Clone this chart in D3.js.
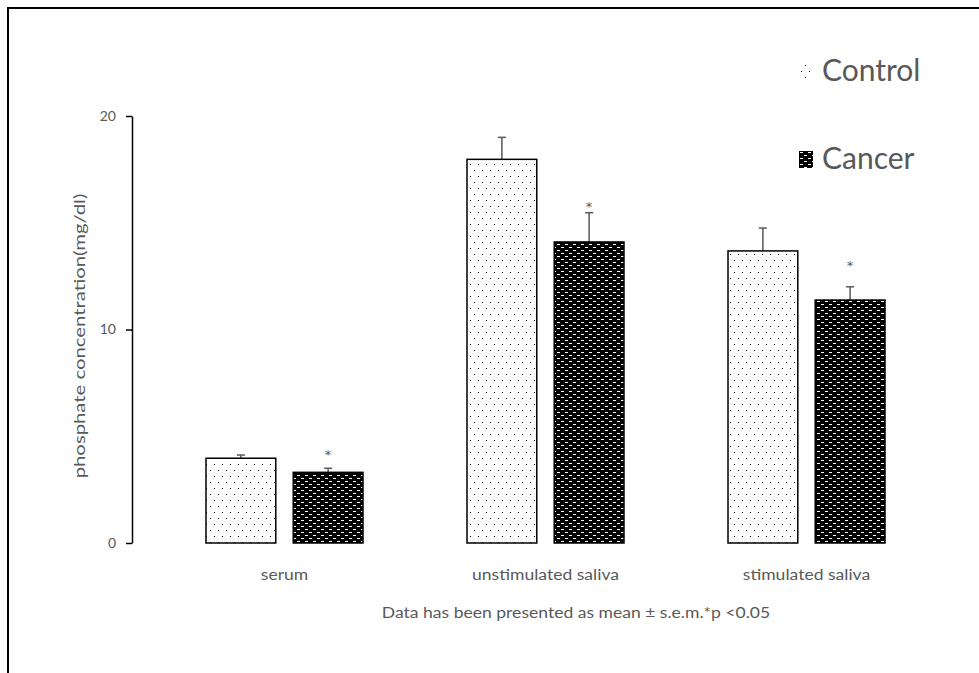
<!DOCTYPE html>
<html>
<head>
<meta charset="utf-8">
<script src="https://cdn.jsdelivr.net/npm/d3@7"></script>
<style>
  body { margin: 0; background: #fff; }
  svg { display: block; }
  text { font-family: Lato, "Open Sans", sans-serif; fill: #595959; }
</style>
</head>
<body>
<div id="chart"></div>
<script>
//-- DATA --\\
var categories = ["serum", "unstimulated saliva", "stimulated saliva"];
var groups = ["Control", "Cancer"];
var controlMean = [3.97, 17.97, 13.68];
var controlErr = [0.15, 1.03, 1.07];
var cancerMean = [3.31, 14.1, 11.38];
var cancerErr = [0.19, 1.37, 0.62];
var starAt = [4.25, 15.9, 13.1]; // where the * marks sit
var yTicks = [0, 10, 20];
var footnote = "Data has been presented as mean \u00b1 s.e.m.*p <0.05";

//-- LAYOUT --\\
var width = 979, height = 673;
var textCol = "#595959";
var stretch = 1.17; // the source text is drawn a bit wide

var svg = d3.select("#chart").append("svg")
  .attr("width", width)
  .attr("height", height);

var defs = svg.append("defs");

// sparse dots for control
var pDots = defs.append("pattern")
  .attr("id", "dots").attr("patternUnits", "userSpaceOnUse")
  .attr("width", 8).attr("height", 12);
pDots.append("rect").attr("width", 8).attr("height", 12).attr("fill", "#fff");
pDots.append("rect").attr("x", 2).attr("y", 2).attr("width", 1).attr("height", 1).attr("fill", "#000");
pDots.append("rect").attr("x", 6).attr("y", 8).attr("width", 1).attr("height", 1).attr("fill", "#000");

// black brick-ish dashes for cancer
var pBrick = defs.append("pattern")
  .attr("id", "brick").attr("patternUnits", "userSpaceOnUse")
  .attr("width", 8).attr("height", 6);
pBrick.append("rect").attr("width", 8).attr("height", 6).attr("fill", "#000");
pBrick.append("rect").attr("x", 1).attr("y", 1).attr("width", 3).attr("height", 1).attr("fill", "#fff");
pBrick.append("rect").attr("x", 5).attr("y", 4).attr("width", 3).attr("height", 1).attr("fill", "#fff");

var fills = { Control: "url(#dots)", Cancer: "url(#brick)" };

// outer frame
svg.append("path")
  .attr("d", "M8," + height + "V8H" + width)
  .attr("fill", "none").attr("stroke", "#000").attr("stroke-width", 2);

var y = d3.scaleLinear().domain([0, 20]).range([543, 116]);
var x0 = d3.scaleBand().domain(categories).range([154, 937]).padding(0);
var x1 = d3.scaleBand().domain(groups).range([52, 209]).paddingInner(0.2);

// y axis
var yAxis = svg.append("g")
  .attr("transform", "translate(132,0)")
  .call(d3.axisLeft(y).tickValues(yTicks).tickSize(6).tickSizeOuter(0));
yAxis.select(".domain").attr("stroke", "#000").attr("stroke-width", 1.5);
yAxis.selectAll(".tick line").attr("stroke", "#000").attr("stroke-width", 1.5);
yAxis.selectAll(".tick text")
  .attr("x", -16).attr("font-size", 14)
  .style("font-family", "Lato, sans-serif").attr("fill", textCol);

svg.append("text")
  .attr("transform", "translate(85,336) rotate(-90) scale(1.27,1)")
  .attr("text-anchor", "middle")
  .attr("font-size", 16)
  .text("phosphate concentration(mg/dl)");

// bars
var rows = [];
categories.forEach(function (c, i) {
  rows.push({ cat: c, grp: "Control", mean: controlMean[i], err: controlErr[i] });
  rows.push({ cat: c, grp: "Cancer", mean: cancerMean[i], err: cancerErr[i] });
});

var bars = svg.append("g");

// error bars (upper only) drawn first so bar outline sits on top
bars.selectAll(".err").data(rows).enter().append("g")
  .each(function (d) {
    var cx = x0(d.cat) + x1(d.grp) + x1.bandwidth() / 2;
    var g = d3.select(this);
    g.append("line")
      .attr("x1", cx).attr("x2", cx)
      .attr("y1", y(d.mean)).attr("y2", y(d.mean + d.err))
      .attr("stroke", "#595959").attr("stroke-width", 1.5);
    g.append("line")
      .attr("x1", cx - 4).attr("x2", cx + 4)
      .attr("y1", y(d.mean + d.err)).attr("y2", y(d.mean + d.err))
      .attr("stroke", "#595959").attr("stroke-width", 1.5);
  });

bars.selectAll(".bar").data(rows).enter().append("rect")
  .attr("x", function (d) { return x0(d.cat) + x1(d.grp); })
  .attr("y", function (d) { return y(d.mean); })
  .attr("width", x1.bandwidth())
  .attr("height", function (d) { return y(0) - y(d.mean); })
  .attr("fill", function (d) { return fills[d.grp]; })
  .attr("stroke", "#000").attr("stroke-width", 1.5);

// significance stars
svg.selectAll(".star").data(categories).enter().append("text")
  .attr("x", function (c) { return x0(c) + x1("Cancer") + x1.bandwidth() / 2; })
  .attr("y", function (c, i) { return y(starAt[i]) + 7; })
  .attr("text-anchor", "middle")
  .attr("font-size", 13)
  .style("font-family", "'DejaVu Sans', sans-serif")
  .text("*");

// category labels
svg.selectAll(".cat").data(categories).enter().append("text")
  .attr("transform", function (c) {
    return "translate(" + (x0(c) + x0.bandwidth() / 2) + ",580) scale(" + stretch + ",1)";
  })
  .attr("text-anchor", "middle")
  .attr("font-size", 15)
  .text(function (c) { return c; });

svg.append("text")
  .attr("transform", "translate(576,618) scale(" + stretch + ",1)")
  .attr("text-anchor", "middle")
  .attr("font-size", 15)
  .text(footnote);

// legend
var legendY = [81, 169];
var leg = svg.selectAll(".leg").data(groups).enter().append("g")
  .attr("transform", function (d, i) { return "translate(799," + legendY[i] + ")"; });
leg.append("rect")
  .attr("x", 0).attr("y", -18).attr("width", 14).attr("height", 17)
  .attr("fill", function (d) { return fills[d]; });
leg.append("text")
  .attr("x", 23).attr("y", 0)
  .attr("font-size", 30)
  .text(function (d) { return d; });
</script>
</body>
</html>
